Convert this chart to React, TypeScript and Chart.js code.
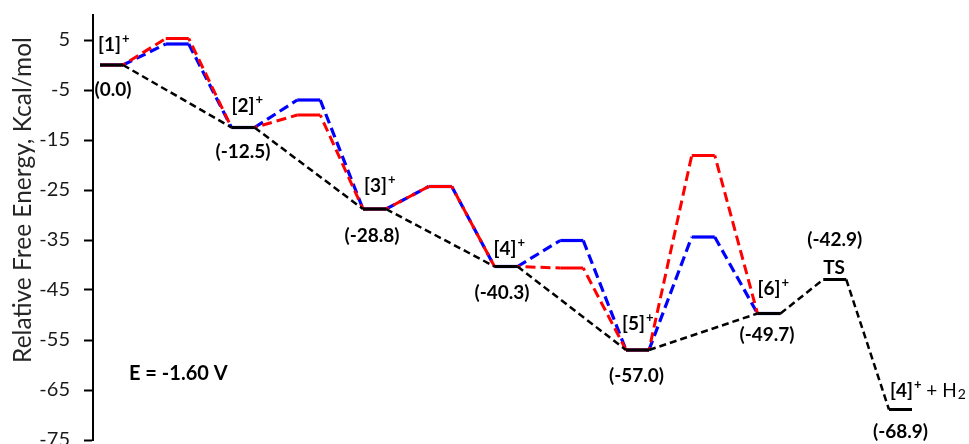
import React, { useEffect, useRef } from "react";
import { Chart, registerables } from "chart.js";

Chart.register(...registerables);

// ---- data ----
const stateNames = ["[1]", "[2]", "[3]", "[4]", "[5]", "[6]", "TS", "[4]"];
const stateCharges = ["+", "+", "+", "+", "+", "+", "", "+"];
const mainSlots = [0, 2, 4, 6, 8, 10, 11, 12];
const mainEnergies = [0.0, -12.5, -28.8, -40.3, -57.0, -49.7, -42.9, -68.9];
const pathSlots = [0, 1, 2, 3, 4, 5, 6, 7, 8, 9, 10];
const redEnergies = [0.0, 5.3, -12.5, -10.0, -28.8, -24.3, -40.3, -40.6, -57.0, -18.1, -49.7];
const blueEnergies = [0.0, 4.2, -12.5, -7.0, -28.8, -24.3, -40.3, -35.1, -57.0, -34.4, -49.7];
const yTicks = [5, -5, -15, -25, -35, -45, -55, -65, -75];
const yTitle = "Relative Free Energy, Kcal/mol";
const potentialLabel = "E = -1.60 V";
const productSuffix = " + H";
const productSub = "2";

// ---- layout (pixel offsets for annotations) ----
const LEVEL_W = 0.35;
const nameOffsets = [
  [-2, -20], [0, -22], [1, -23], [-1, -18], [-4, -26], [0, -24.5], [0, -11.5], [1, -18.5],
];
const valueOffsets = [
  [1.5, 25], [0, 24.5], [-2.5, 27], [-4, 26.5], [-1, 26], [-2, 21.5], [0, -40], [0, 22.5],
];

const FONT = "Lato, 'Open Sans', sans-serif";

function levelPoints(slots: number[], values: number[]) {
  const pts: { x: number; y: number }[] = [];
  slots.forEach((s, i) => {
    pts.push({ x: s, y: values[i] });
    pts.push({ x: s + LEVEL_W, y: values[i] });
  });
  return pts;
}

const labelPlugin = {
  id: "energyLabels",
  afterDatasetsDraw(chart: any) {
    const { ctx, scales } = chart;
    const xs = scales.x;
    const ys = scales.y;
    ctx.save();
    ctx.fillStyle = "#000";
    ctx.textBaseline = "middle";

    mainSlots.forEach((s, i) => {
      const x0 = xs.getPixelForValue(s);
      const x1 = xs.getPixelForValue(s + LEVEL_W);
      const yv = ys.getPixelForValue(mainEnergies[i]);
      // name
      const [ndx, ndy] = nameOffsets[i];
      let lx = x0 + ndx;
      const ly = yv + ndy;
      ctx.textAlign = "left";
      ctx.font = `bold 19px ${FONT}`;
      ctx.fillText(stateNames[i], lx, ly);
      lx += ctx.measureText(stateNames[i]).width;
      if (stateCharges[i]) {
        ctx.font = `bold 13px ${FONT}`;
        ctx.fillText(stateCharges[i], lx + 1, ly - 6);
        lx += 1 + ctx.measureText(stateCharges[i]).width;
      }
      if (i === mainSlots.length - 1) {
        ctx.font = `19px ${FONT}`;
        ctx.fillText(productSuffix, lx, ly);
        lx += ctx.measureText(productSuffix).width;
        ctx.font = `14px ${FONT}`;
        ctx.fillText(productSub, lx + 1, ly + 3);
      }
      // value
      const [vdx, vdy] = valueOffsets[i];
      ctx.textAlign = "center";
      ctx.font = `bold 19px ${FONT}`;
      ctx.fillText(`(${mainEnergies[i].toFixed(1)})`, (x0 + x1) / 2 + vdx, yv + vdy);
    });

    // potential label
    ctx.textAlign = "left";
    ctx.font = `bold 20px ${FONT}`;
    ctx.fillText(potentialLabel, 129, 374);

    // y title
    ctx.save();
    ctx.translate(23, 200);
    ctx.rotate(-Math.PI / 2);
    ctx.textAlign = "center";
    ctx.fillStyle = "#262626";
    ctx.font = `24.5px ${FONT}`;
    ctx.fillText(yTitle, 0, 0);
    ctx.restore();

    ctx.restore();
  },
};

export default function App() {
  const ref = useRef<HTMLCanvasElement | null>(null);

  useEffect(() => {
    if (!ref.current) return;
    const dashed = (pattern: number[]) => (c: any) =>
      c.p0DataIndex % 2 === 0 ? [] : pattern;

    const chart = new Chart(ref.current, {
      type: "line",
      data: {
        datasets: [
          {
            label: "main",
            data: levelPoints(mainSlots, mainEnergies),
            borderColor: "#000000",
            borderWidth: 3,
            pointRadius: 0,
            tension: 0,
            borderJoinStyle: "bevel",
            segment: {
              borderDash: dashed([7, 4]),
              borderWidth: (c: any) => (c.p0DataIndex % 2 === 0 ? 3 : 2.5),
            },
          } as any,
          {
            label: "red",
            data: levelPoints(pathSlots, redEnergies),
            borderColor: "#FF0000",
            borderWidth: 3,
            pointRadius: 0,
            tension: 0,
            borderJoinStyle: "bevel",
            borderDashOffset: 7,
            segment: { borderDash: dashed([10, 5]) },
          } as any,
          {
            label: "blue",
            data: levelPoints(pathSlots, blueEnergies),
            borderColor: "#0000FF",
            borderWidth: 3.2,
            pointRadius: 0,
            tension: 0,
            borderJoinStyle: "bevel",
            segment: { borderDash: dashed([10, 5]) },
          } as any,
        ],
      },
      options: {
        responsive: false,
        animation: false,
        layout: { padding: { top: 15, bottom: 4, left: 0, right: 0 } },
        plugins: { legend: { display: false }, tooltip: { enabled: false } },
        scales: {
          x: {
            type: "linear",
            min: -0.1065,
            max: 13.217,
            display: false,
          },
          y: {
            type: "linear",
            min: -75,
            max: 10,
            afterBuildTicks: (scale: any) => {
              scale.ticks = yTicks.map((v) => ({ value: v }));
            },
            afterFit: (scale: any) => {
              scale.width = 93;
              scale.paddingTop = 0;
              scale.paddingBottom = 0;
            },
            ticks: {
              padding: 14,
              color: "#1a1a1a",
              font: { family: FONT, size: 20 },
              callback: (v: any) => String(v),
            },
            grid: {
              drawOnChartArea: false,
              drawTicks: true,
              tickLength: 9,
              tickWidth: 2,
              color: "#000",
            },
            border: { display: true, color: "#000", width: 2 },
          },
        },
      },
      plugins: [labelPlugin],
    } as any);
    return () => chart.destroy();
  }, []);

  return (
    <div style={{ position: "fixed", left: 0, top: 0, width: 969, height: 444, background: "#fff" }}>
      <canvas ref={ref} width={969} height={444} style={{ display: "block" }} />
    </div>
  );
}
